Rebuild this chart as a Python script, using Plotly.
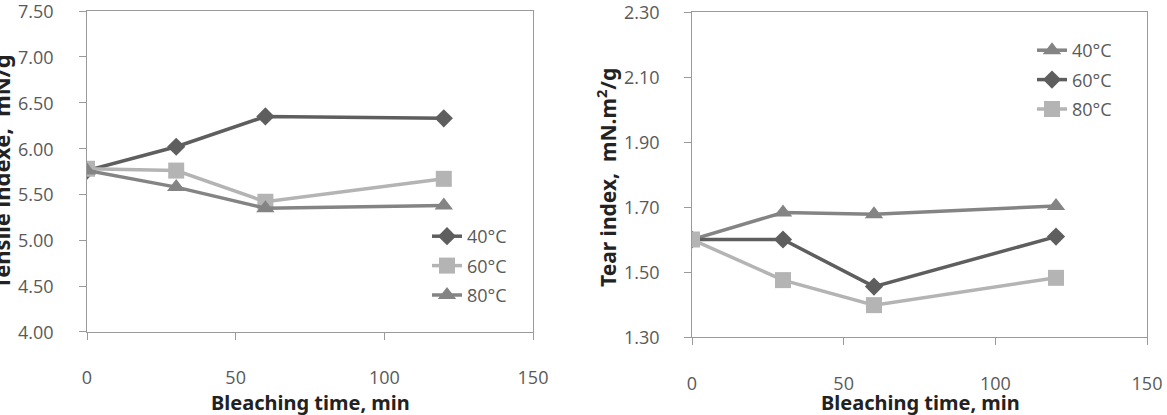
import plotly.graph_objects as go

# ---- data ----
time_min = [0, 30, 60, 120]

tensile_40 = [5.76, 6.02, 6.35, 6.33]
tensile_60 = [5.78, 5.76, 5.42, 5.67]
tensile_80 = [5.76, 5.58, 5.35, 5.38]

tear_40 = [1.60, 1.683, 1.678, 1.703]
tear_60 = [1.60, 1.600, 1.455, 1.609]
tear_80 = [1.60, 1.475, 1.398, 1.482]

series_names = ["40°C", "60°C", "80°C"]
x_ticks = [0, 50, 100, 150]
tensile_ticks = [4.0, 4.5, 5.0, 5.5, 6.0, 6.5, 7.0, 7.5]
tear_ticks = [1.3, 1.5, 1.7, 1.9, 2.1, 2.3]

DARK = "#5e5e5e"
MID = "#848484"
LIGHT = "#b4b4b4"
FONT = "Open Sans"
TICKC = "#595959"

fig = go.Figure()

# left chart
left_style = [(tensile_40, DARK, "diamond", 14), (tensile_60, LIGHT, "square", 16), (tensile_80, MID, "triangle-up", 16)]
for name, (vals, col, sym, sz) in zip(series_names, left_style):
    fig.add_trace(go.Scatter(x=time_min, y=vals, name=name, mode="lines+markers",
                             line=dict(color=col, width=3.5),
                             marker=dict(symbol=sym, size=sz, color=col),
                             legendgroup="L" + name, legend="legend",
                             xaxis="x", yaxis="y"))

# right chart
right_style = [(tear_40, MID, "triangle-up", 16), (tear_60, DARK, "diamond", 14), (tear_80, LIGHT, "square", 16)]
for name, (vals, col, sym, sz) in zip(series_names, right_style):
    fig.add_trace(go.Scatter(x=time_min, y=vals, name=name, mode="lines+markers",
                             line=dict(color=col, width=3.5),
                             marker=dict(symbol=sym, size=sz, color=col),
                             legendgroup="R" + name, legend="legend2",
                             xaxis="x2", yaxis="y2"))

W, H = 1167, 415
tickfont = dict(family=FONT, size=18, color=TICKC)
axis_common = dict(showline=True, linecolor="#9a9a9a", linewidth=1.3, mirror=True,
                   ticks="outside", ticklen=7, tickcolor="#9a9a9a", showgrid=False,
                   zeroline=False, ticklabeloverflow="allow", automargin=False,
                   tickfont=tickfont)

fig.update_layout(
    width=W, height=H, margin=dict(l=0, r=0, t=0, b=0, autoexpand=False),
    paper_bgcolor="white", plot_bgcolor="white",
    xaxis=dict(domain=[87 / W, 533 / W], range=[0, 150], tickvals=x_ticks,
               ticklabelstandoff=22, anchor="y", **axis_common),
    yaxis=dict(domain=[83 / H, 404 / H], range=[3.9999, 7.5001], tickvals=tensile_ticks,
               showticklabels=False, anchor="x", **axis_common),
    xaxis2=dict(domain=[692 / W, 1147 / W], range=[0, 150], tickvals=x_ticks,
                ticklabelstandoff=23, anchor="y2", **axis_common),
    yaxis2=dict(domain=[78 / H, 403 / H], range=[1.29999, 2.30001], tickvals=tear_ticks,
                showticklabels=False, anchor="x2", **axis_common),
    legend=dict(x=427 / W, xanchor="left", y=1 - 218 / H, yanchor="top",
                font=dict(family=FONT, size=18, color=TICKC), tracegroupgap=3,
                bgcolor="rgba(0,0,0,0)"),
    legend2=dict(x=1032 / W, xanchor="left", y=1 - 32 / H, yanchor="top",
                 font=dict(family=FONT, size=18, color=TICKC), tracegroupgap=3,
                 bgcolor="rgba(0,0,0,0)"),
    showlegend=True,
)

# y tick labels placed through the y scales
for v in tensile_ticks:
    fig.add_annotation(text=f"{v:.2f}", xref="paper", yref="y", x=56 / W, y=v,
                       xanchor="right", yanchor="middle", showarrow=False, font=tickfont)
for v in tear_ticks:
    fig.add_annotation(text=f"{v:.2f}", xref="paper", yref="y2", x=662 / W, y=v,
                       xanchor="right", yanchor="middle", showarrow=False, font=tickfont)

xt_font = dict(family="Noto Sans", size=20, color="#222222")
yt_font = dict(family="Noto Sans", size=22, color="#222222")
fig.add_annotation(text="<b>Bleaching time, min</b>", xref="paper", yref="paper",
                   x=310 / W, y=1 - 402 / H, xanchor="center", yanchor="middle",
                   showarrow=False, font=xt_font)
fig.add_annotation(text="<b>Bleaching time, min</b>", xref="paper", yref="paper",
                   x=920 / W, y=1 - 402 / H, xanchor="center", yanchor="middle",
                   showarrow=False, font=xt_font)
fig.add_annotation(text="<b>Tensile indexe,\u00a0\u00a0mN/g</b>", xref="paper", yref="paper",
                   x=1 / W, y=1 - 172 / H, xanchor="center", yanchor="middle",
                   textangle=-90, showarrow=False, font=yt_font)
fig.add_annotation(text="<b>Tear index,\u00a0\u00a0mN.m<sup>2</sup>/g</b>", xref="paper", yref="paper",
                   x=606 / W, y=1 - 178 / H, xanchor="center", yanchor="middle",
                   textangle=-90, showarrow=False, font=dict(family="Noto Sans", size=21, color="#222222"))

fig.write_html("out.html")
